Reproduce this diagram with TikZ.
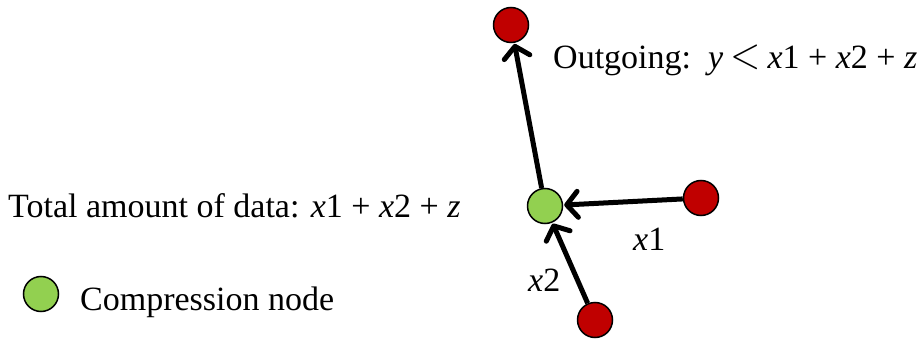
\documentclass[tikz,border=0pt]{standalone}
\usepackage{fontspec}
\usepackage{graphicx}
\setmainfont{Liberation Serif}
\usetikzlibrary{arrows.meta}
\definecolor{nodered}{HTML}{C00000}
\definecolor{nodegreen}{HTML}{92D050}
\tikzset{
  rednode/.style={circle,draw=black,line width=1.5pt,fill=nodered,minimum size=35pt,inner sep=0pt},
  greennode/.style={circle,draw=black,line width=1.5pt,fill=nodegreen,minimum size=35pt,inner sep=0pt},
  flow/.style={line width=5pt,-{Straight Barb[length=11pt,width=26pt,line cap=round,line join=round]},shorten >=1pt},
  lbl/.style={font=\fontsize{34}{40}\selectfont,inner sep=0pt,anchor=base west}
}
\begin{document}
\begin{tikzpicture}[x=1pt,y=-1pt]
\useasboundingbox (0,0) rectangle (923,339);
\node[rednode] (top) at (511,25) {};
\node[greennode] (c) at (545,206) {};
\node[rednode] (r) at (701,198) {};
\node[rednode] (b) at (595,320) {};
\node[greennode] (leg) at (41,294) {};
\draw[flow] (c) -- (top);
\draw[flow] (r) -- (c);
\draw[flow] (b) -- (c);
\node[lbl] (out) at (553,69) {Outgoing:\ \ \textit{y}\kern7pt\scalebox{1.6}[1.8]{$<$}\kern7pt\textit{x}1 + \textit{x}2 + \textit{z}};
\node[lbl] (tot) at (8,218) {Total amount of data: \textit{x}1 + \textit{x}2 + \textit{z}};
\node[lbl] (cn) at (80,310) {Compression node};
\node[lbl] (x1) at (633,250) {\textit{x}1};
\node[lbl] (x2) at (528,291) {\textit{x}2};
\end{tikzpicture}
\end{document}
